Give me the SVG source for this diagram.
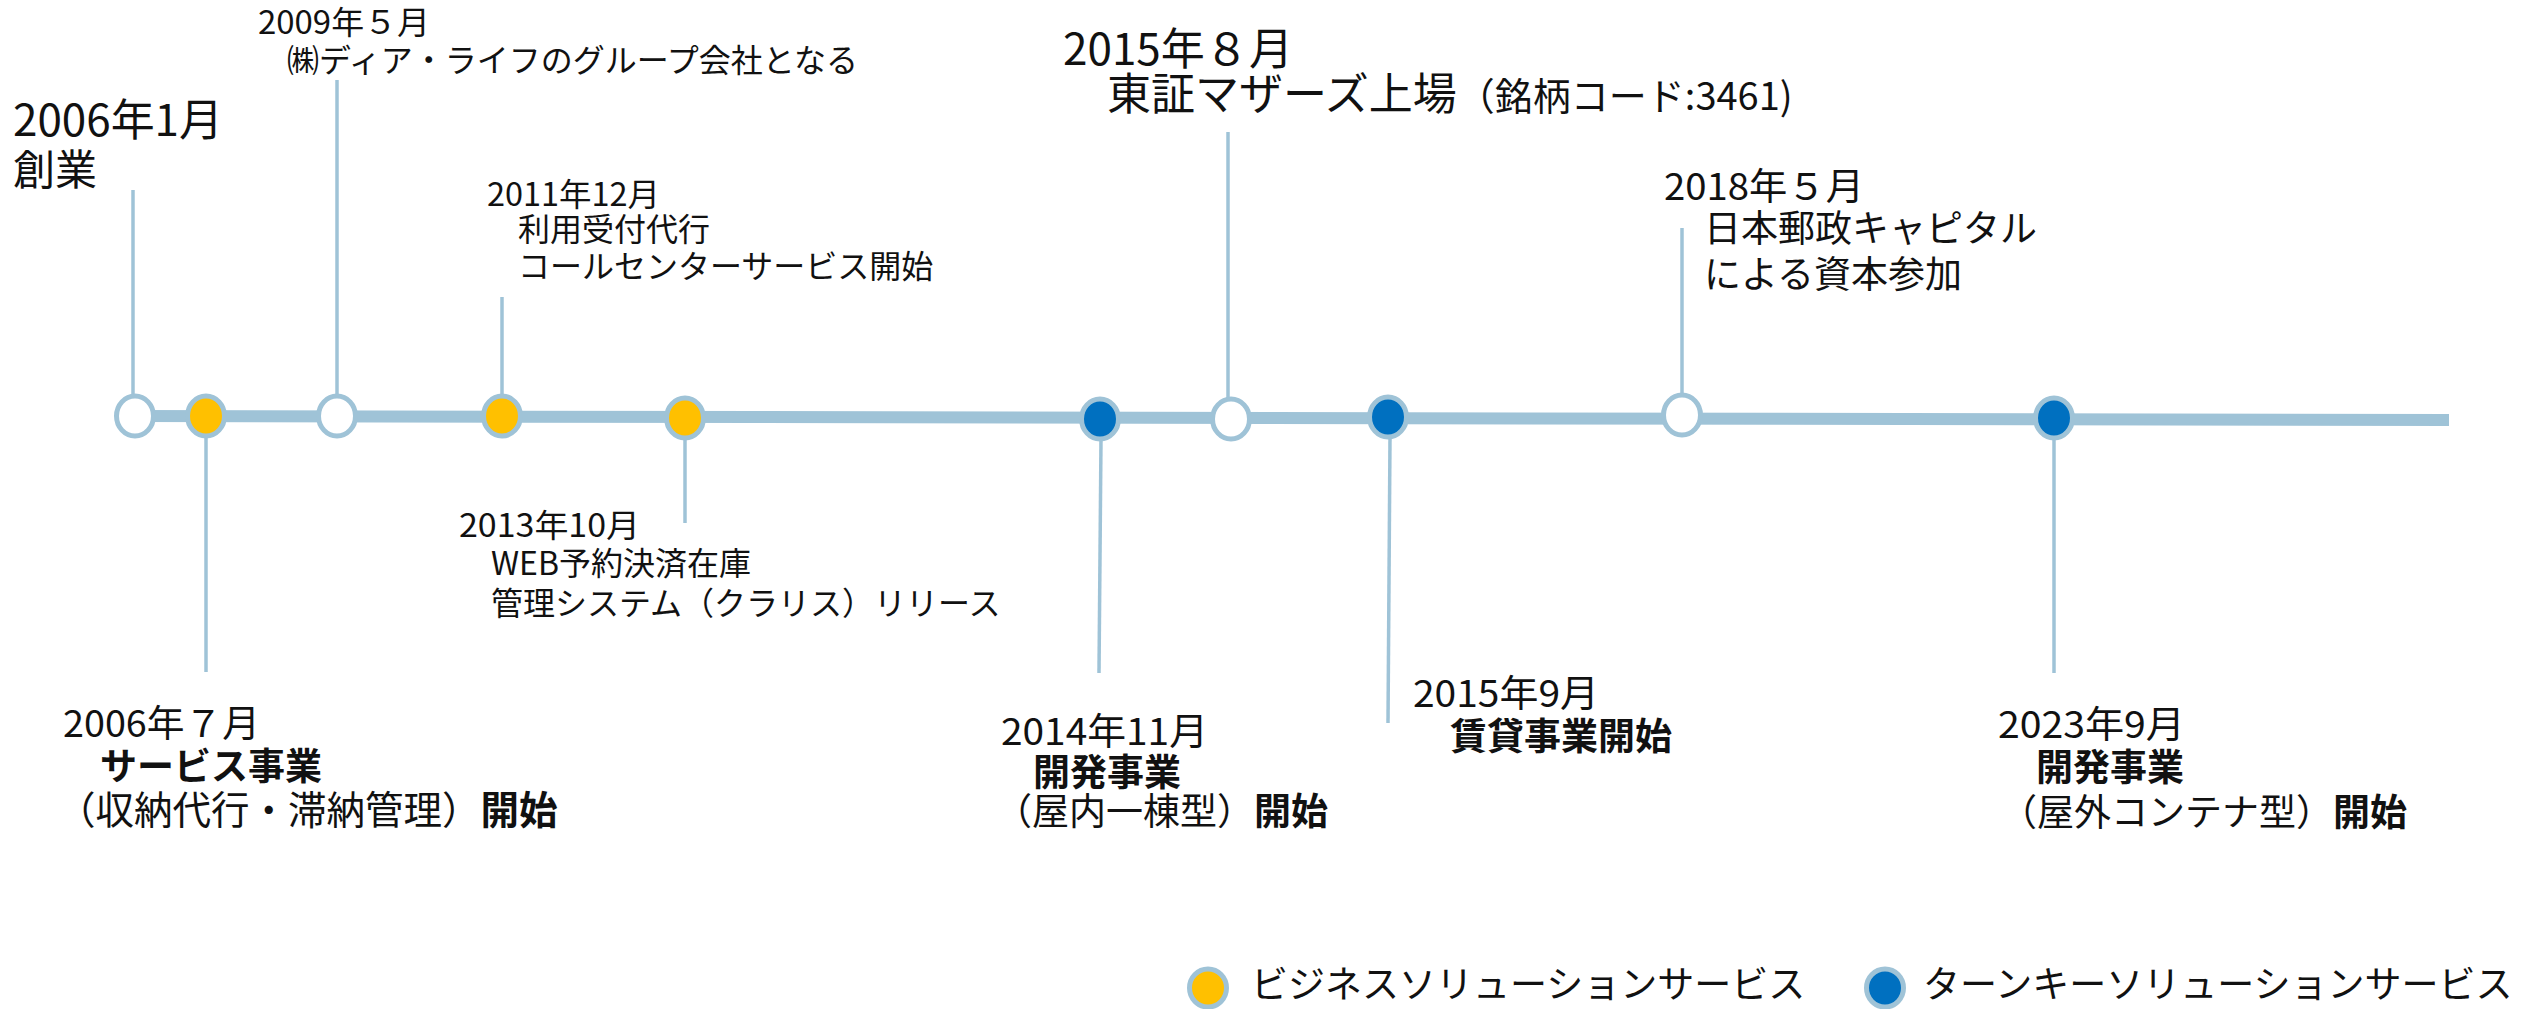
<svg xmlns="http://www.w3.org/2000/svg" width="2530" height="1009" viewBox="0 0 2530 1009">
<style>
text{font-family:"Noto Sans CJK JP","Noto Sans",sans-serif;fill:#111;}
.s32{font-size:32px;}
.s37{font-size:37px;}
.s44{font-size:44px;}
.b{font-weight:bold;}
.lead{stroke:#9fc3d7;stroke-width:3.5;fill:none;}
.axis{stroke:#9fc3d7;stroke-width:12;fill:none;}
.dot{stroke:#9fc3d7;stroke-width:5;}
.w{fill:#ffffff;}
.y{fill:#ffc000;}
.bl{fill:#0070c0;}
</style>
<rect width="2530" height="1009" fill="#ffffff"/>
<g id="connectors">
<line class="axis" x1="135" y1="416" x2="2449" y2="420"/>
<line class="lead" x1="133" y1="190" x2="133" y2="397"/>
<line class="lead" x1="206" y1="436" x2="206" y2="672"/>
<line class="lead" x1="337" y1="80" x2="337" y2="397"/>
<line class="lead" x1="502" y1="297" x2="502" y2="397"/>
<line class="lead" x1="685" y1="438" x2="685" y2="523"/>
<line class="lead" x1="1101" y1="439" x2="1099" y2="673"/>
<line class="lead" x1="1228" y1="132" x2="1228" y2="399"/>
<line class="lead" x1="1390" y1="437" x2="1388" y2="723"/>
<line class="lead" x1="1682" y1="228" x2="1682" y2="395"/>
<line class="lead" x1="2054" y1="438" x2="2054" y2="673"/>
</g>
<g id="n2006-01">
<ellipse class="dot w" cx="135" cy="416" rx="18.5" ry="20"/>
<text class="s44" x="13" y="136" textLength="210" lengthAdjust="spacingAndGlyphs">2006年1月</text>
<text x="13" y="185" style="font-size:42px">創業</text>
</g>
<g id="n2006-07">
<ellipse class="dot y" cx="206" cy="416" rx="18.5" ry="20"/>
<text class="s37" x="63" y="737" textLength="197" lengthAdjust="spacingAndGlyphs">2006年７月</text>
<text class="s37 b" x="100" y="780">サービス事業</text>
<text x="57" y="824" style="font-size:38.5px">（収納代行・滞納管理）<tspan class="b">開始</tspan></text>
</g>
<g id="n2009-05">
<ellipse class="dot w" cx="337" cy="416" rx="18.5" ry="20"/>
<text class="s32" x="258" y="34" textLength="172" lengthAdjust="spacingAndGlyphs">2009年５月</text>
<text class="s32" x="287" y="72">㈱ディア・ライフのグループ会社となる</text>
</g>
<g id="n2011-12">
<ellipse class="dot y" cx="502" cy="416" rx="18.5" ry="20"/>
<text class="s32" x="487" y="206" textLength="173" lengthAdjust="spacingAndGlyphs">2011年12月</text>
<text class="s32" x="518" y="241">利用受付代行</text>
<text class="s32" x="518" y="278">コールセンターサービス開始</text>
</g>
<g id="n2013-10">
<ellipse class="dot y" cx="685" cy="418" rx="18.5" ry="20"/>
<text class="s32" x="459" y="537" textLength="181" lengthAdjust="spacingAndGlyphs">2013年10月</text>
<text class="s32" x="491" y="575">WEB予約決済在庫</text>
<text class="s32" x="491" y="615">管理システム（クラリス）リリース</text>
</g>
<g id="n2014-11">
<ellipse class="dot bl" cx="1100" cy="419" rx="18.5" ry="20"/>
<text class="s37" x="1001" y="745" textLength="207" lengthAdjust="spacingAndGlyphs">2014年11月</text>
<text class="s37 b" x="1033" y="786">開発事業</text>
<text class="s37" x="995" y="825">（屋内一棟型）<tspan class="b">開始</tspan></text>
</g>
<g id="n2015-08">
<ellipse class="dot w" cx="1231" cy="419" rx="18.5" ry="20"/>
<text class="s44" x="1063" y="65" textLength="230" lengthAdjust="spacingAndGlyphs">2015年８月</text>
<text x="1107" y="110"><tspan class="s44">東証マザーズ上場</tspan><tspan style="font-size:38px">（銘柄コード:3461)</tspan></text>
</g>
<g id="n2015-09">
<ellipse class="dot bl" cx="1388" cy="417" rx="18.5" ry="20"/>
<text class="s37" x="1413" y="707" textLength="186" lengthAdjust="spacingAndGlyphs">2015年9月</text>
<text class="s37 b" x="1450" y="750">賃貸事業開始</text>
</g>
<g id="n2018-05">
<ellipse class="dot w" cx="1682" cy="415" rx="18.5" ry="20"/>
<text class="s37" x="1664" y="200" textLength="200" lengthAdjust="spacingAndGlyphs">2018年５月</text>
<text class="s37" x="1704" y="242">日本郵政キャピタル</text>
<text class="s37" x="1704" y="288">による資本参加</text>
</g>
<g id="n2023-09">
<ellipse class="dot bl" cx="2054" cy="418" rx="18.5" ry="20"/>
<text class="s37" x="1998" y="738" textLength="187" lengthAdjust="spacingAndGlyphs">2023年9月</text>
<text class="s37 b" x="2036" y="781">開発事業</text>
<text class="s37" x="2000" y="826">（屋外コンテナ型）<tspan class="b">開始</tspan></text>
</g>
<g id="legend">
<ellipse class="dot y" cx="1208" cy="988" rx="18.5" ry="19"/>
<text class="s37" x="1251" y="998">ビジネスソリューションサービス</text>
<ellipse class="dot bl" cx="1885" cy="988" rx="18.5" ry="19"/>
<text class="s37" x="1923" y="998">ターンキーソリューションサービス</text>
</g>
</svg>
